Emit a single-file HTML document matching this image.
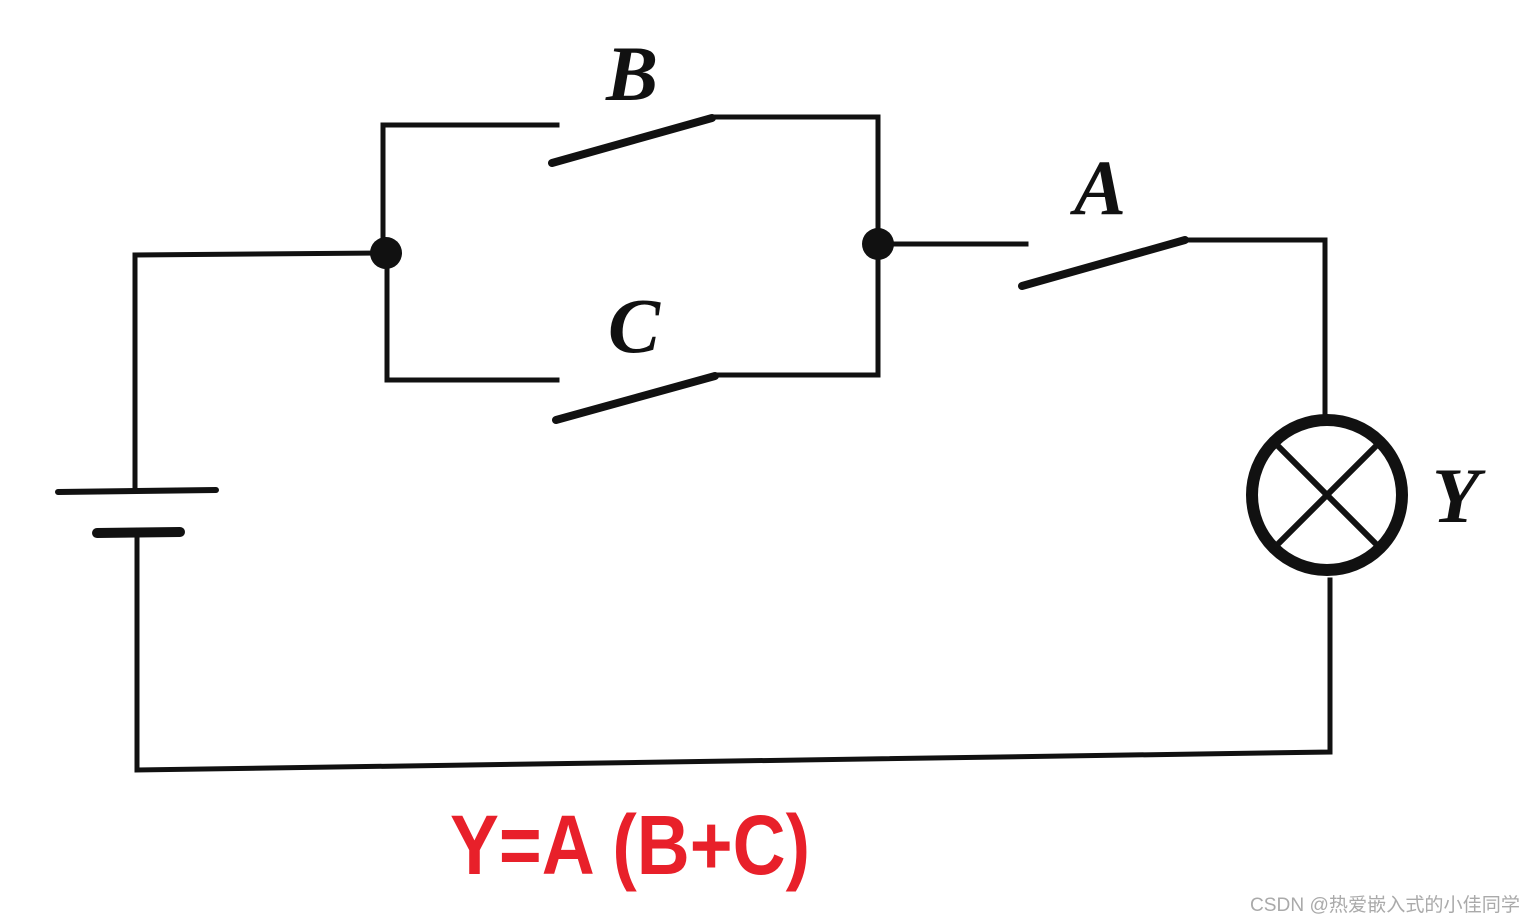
<!DOCTYPE html>
<html><head><meta charset="utf-8"><style>
html,body{margin:0;padding:0;background:#fff;width:1536px;height:924px;overflow:hidden}
svg{display:block}
</style></head><body>
<svg width="1536" height="924" viewBox="0 0 1536 924" xmlns="http://www.w3.org/2000/svg">
<rect width="1536" height="924" fill="#fff"/>
<g stroke="#111" stroke-width="5" fill="none" stroke-linecap="square">
<polyline points="135,490 135,255 386,253"/>
<polyline points="137,535 137,770 1330,752 1330,580"/>
<polyline points="1325,415 1325,240 1185,240"/>
<line x1="900" y1="244" x2="1026" y2="244"/>
<polyline points="557,125 383,125 383,253 387,253 387,380 557,380"/>
<polyline points="712,117 878,117 878,375 715,375"/>
<line x1="878" y1="244" x2="900" y2="244"/>
</g>
<g stroke="#111" stroke-width="8" stroke-linecap="round">
<line x1="1022" y1="286" x2="1185" y2="240"/>
<line x1="552" y1="163" x2="712" y2="118"/>
<line x1="556" y1="420" x2="715" y2="376"/>
<line x1="58" y1="492" x2="216" y2="490" stroke-width="6"/>
<line x1="97" y1="533" x2="180" y2="532" stroke-width="10"/>
</g>
<circle cx="386" cy="253" r="16" fill="#111"/>
<circle cx="878" cy="244" r="16" fill="#111"/>
<circle cx="1327" cy="495" r="75" fill="none" stroke="#111" stroke-width="12"/>
<g stroke="#111" stroke-width="6">
<line x1="1274" y1="442" x2="1380" y2="548"/>
<line x1="1380" y1="442" x2="1274" y2="548"/>
</g>
<g font-family="Liberation Serif, serif" font-style="italic" font-weight="bold" font-size="78" fill="#111">
<text x="606" y="100">B</text>
<text x="608" y="352">C</text>
<text x="1074" y="214">A</text>
<text x="1432" y="522">Y</text>
</g>
<text x="450" y="874" font-family="Liberation Sans, sans-serif" font-weight="bold" font-size="84" fill="#e8202a" textLength="360" lengthAdjust="spacingAndGlyphs">Y=A (B+C)</text>
<text x="1250" y="911" font-family="Liberation Sans, 'Noto Sans CJK SC', sans-serif" font-size="19" fill="#aaa" textLength="270" lengthAdjust="spacingAndGlyphs">CSDN @热爱嵌入式的小佳同学</text>
</svg>
</body></html>
